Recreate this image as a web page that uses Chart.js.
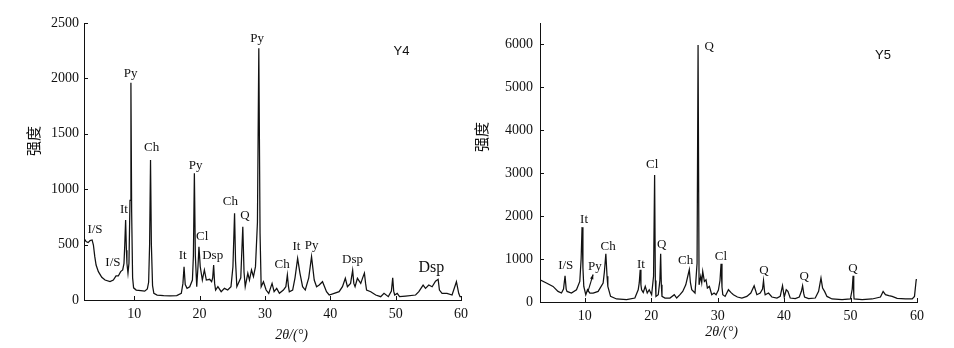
<!DOCTYPE html>
<html><head><meta charset="utf-8">
<script src="https://cdn.jsdelivr.net/npm/chart.js@4.4.1/dist/chart.umd.min.js"></script>
<style>
html,body{margin:0;padding:0;background:#fff}
body{width:954px;height:348px;position:relative;overflow:hidden}
canvas{position:absolute;left:0;top:0}
</style></head><body>
<canvas id="c1" width="954" height="348"></canvas>
<canvas id="c2" width="954" height="348"></canvas>
<script>
// ---- Data: Y4 ----
const y4Angle = [2.31,2.63,2.94,3.24,3.55,3.75,3.96,4.16,4.51,5.03,5.53,6.29,6.80,7.21,7.56,7.92,8.23,8.43,8.55,8.68,8.80,8.88,9.04,9.19,9.35,9.49,9.60,9.75,9.90,10.3,11.0,11.6,12.0,12.2,12.35,12.49,12.62,12.8,13.0,13.5,14.5,15.5,16.5,17.2,17.45,17.62,17.8,18.08,18.49,18.9,19.05,19.2,19.35,19.56,19.75,19.9,20.1,20.42,20.73,21.03,21.54,21.84,22.0,22.15,22.3,22.45,22.8,23.3,23.8,24.3,24.8,25.1,25.35,25.5,25.7,26.3,26.61,26.8,26.98,27.38,27.63,27.94,28.24,28.55,28.85,29.06,29.25,29.42,29.77,30.18,30.58,31.09,31.4,31.8,32.21,32.82,33.2,33.43,33.6,33.73,34.24,34.6,35.0,35.36,35.76,36.17,36.7,37.13,37.54,37.9,38.3,38.81,39.12,39.42,39.83,40.59,41.35,41.86,42.3,42.62,43.1,43.42,43.6,43.79,44.15,44.66,44.95,45.22,45.4,45.55,46.19,46.95,47.71,48.22,48.88,49.35,49.55,49.7,49.85,50.24,50.6,51.52,53.05,53.55,54.2,54.57,55.07,55.58,56.1,56.5,56.7,57.1,57.86,58.63,59.3,59.65,59.85,60];
const y4Intensity = [557,527,518,536,542,496,391,316,256,205,180,166,180,217,217,256,271,331,500,722,450,331,241,331,900,1961,800,200,110,90,85,80,100,160,500,1264,500,130,60,45,40,38,40,60,150,300,140,105,120,180,400,1143,400,120,300,481,300,180,271,180,187,165,200,316,150,90,120,75,105,90,120,300,782,350,120,200,662,250,120,241,180,271,210,301,700,2271,600,120,165,90,60,150,75,105,60,90,120,226,120,75,90,200,376,241,120,90,200,391,180,120,135,165,120,75,45,60,75,120,196,120,150,268,150,120,196,150,200,243,150,90,75,45,30,60,30,80,200,80,45,60,30,36,45,75,135,105,135,120,170,187,90,60,60,45,165,60,30,30];
// ---- Data: Y5 ----
const y5Angle = [3.26,4.22,5.22,5.97,6.49,6.8,7.03,7.2,7.33,7.99,8.75,9.25,9.45,9.59,9.72,9.85,10.15,10.41,10.76,11.26,12.01,12.76,12.95,13.17,13.35,13.47,13.88,14.78,16.29,17.54,18.04,18.2,18.34,18.45,18.55,18.8,19.1,19.4,19.7,20.06,20.35,20.51,20.62,20.71,21.06,21.3,21.42,21.52,21.62,22.07,22.82,23.47,23.83,24.33,24.74,25.2,25.5,25.73,25.9,26.1,26.59,26.9,27.05,27.2,27.45,27.6,27.75,28.0,28.25,28.45,28.75,29.11,29.46,29.76,30.11,30.35,30.51,30.65,30.77,31.12,31.62,31.98,32.37,32.97,33.64,34.39,34.99,35.49,35.9,36.4,36.75,36.9,37.05,37.15,37.65,38.16,38.92,39.41,39.76,40.02,40.32,40.57,40.92,41.68,42.28,42.6,42.78,42.95,43.08,43.68,44.69,45.19,45.55,45.79,46.09,46.45,47.21,48.72,49.97,50.25,50.38,50.48,50.53,51.74,53.24,54.5,54.9,55.25,55.75,56.26,57.01,58.27,59.28,59.62,59.88,60];
const y5Intensity = [519,442,363,247,209,300,612,300,247,209,286,479,1000,1744,800,363,170,286,209,209,247,442,700,1123,600,363,130,70,53,93,286,450,751,400,286,223,363,209,286,170,600,2961,500,130,170,500,1123,400,130,93,93,170,93,170,247,400,600,751,450,286,209,900,5985,400,596,450,712,479,519,326,363,170,209,170,280,500,891,350,170,130,286,223,170,116,93,130,209,379,170,209,300,495,250,170,209,116,93,130,379,116,286,247,93,77,116,250,379,200,116,77,93,247,558,326,247,130,70,53,70,300,612,200,70,53,70,116,247,170,147,130,84,70,70,130,519,520];
// ---- Tick labels ----
const xTickValues = [10,20,30,40,50,60];
const y4TickValues = [0,500,1000,1500,2000,2500];
const y5TickValues = [0,1000,2000,3000,4000,5000,6000];
// ---- Peak labels [text, angle, intensity] ----
const y4Labels = [["I/S",3.99,632],["I/S",6.74,334],["It",8.43,812],["Py",9.45,2040],["Ch",12.66,1372],["It",17.40,397],["Py",19.39,1212],["Cl",20.40,569],["Dsp",22.0,397],["Ch",24.71,884],["Q",26.93,758],["Py",28.81,2362],["Ch",32.63,322],["It",34.83,481],["Py",37.13,487],["Dsp",43.40,367]];
const y4BigLabels = [["Dsp",55.47,292]];
const y5Labels = [["I/S",7.13,851],["It",9.89,1931],["Py",11.51,828],["Ch",13.51,1293],["It",18.44,868],["Cl",20.14,3194],["Q",21.56,1333],["Ch",25.18,961],["Q",28.73,5962],["Cl",30.5,1061],["Q",36.98,735],["Q",43.01,582],["Q",50.35,768]];

const SERIF = '"Liberation Serif","Times New Roman",serif';
const decor = {
  id: 'decor',
  afterDraw(chart, args, o) {
    const {ctx, chartArea: a, scales: {x, y}} = chart;
    ctx.save();
    ctx.strokeStyle = '#111'; ctx.lineWidth = 1;
    ctx.beginPath();
    x.ticks.forEach(t => { const p = Math.round(x.getPixelForValue(t.value)) + 0.5; ctx.moveTo(p, a.bottom); ctx.lineTo(p, a.bottom - 4); });
    y.ticks.forEach(t => { const p = Math.round(y.getPixelForValue(t.value)) + 0.5; ctx.moveTo(a.left, p); ctx.lineTo(a.left + 4, p); });
    ctx.stroke();
    ctx.fillStyle = '#111'; ctx.textAlign = 'center'; ctx.textBaseline = 'middle';
    ctx.font = '13px ' + SERIF;
    o.labels.forEach(l => ctx.fillText(l[0], x.getPixelForValue(l[1]), y.getPixelForValue(l[2])));
    ctx.font = '16px ' + SERIF;
    (o.big || []).forEach(l => ctx.fillText(l[0], x.getPixelForValue(l[1]), y.getPixelForValue(l[2])));
    // sample name
    ctx.font = '13px "Liberation Sans",Arial,sans-serif';
    ctx.fillText(o.name[0], x.getPixelForValue(o.name[1]), y.getPixelForValue(o.name[2]));
    // arrow
    if (o.arrow) {
      const [x1, y1, x2, y2] = o.arrow;
      const px1 = x.getPixelForValue(x1), py1 = y.getPixelForValue(y1), px2 = x.getPixelForValue(x2), py2 = y.getPixelForValue(y2);
      ctx.beginPath(); ctx.lineWidth = 1.1; ctx.moveTo(px1, py1); ctx.lineTo(px2, py2); ctx.stroke();
      const ang = Math.atan2(py1 - py2, px1 - px2);
      ctx.beginPath(); ctx.moveTo(px1, py1);
      ctx.lineTo(px1 - 5 * Math.cos(ang - 0.35), py1 - 5 * Math.sin(ang - 0.35));
      ctx.lineTo(px1 - 5 * Math.cos(ang + 0.35), py1 - 5 * Math.sin(ang + 0.35));
      ctx.closePath(); ctx.fill();
    }
    // x title
    ctx.font = 'italic 14px ' + SERIF;
    ctx.fillText('2θ/(°)', x.getPixelForValue(o.xTitleAt), a.bottom + o.xTitleDy);
    // y title
    ctx.translate(a.left - o.yTitleDx, y.getPixelForValue(o.yTitleAt));
    ctx.rotate(-Math.PI / 2);
    ctx.font = '15px "Noto Sans CJK SC",sans-serif';
    ctx.fillText('强度', 0, 0);
    ctx.restore();
  }
};

function makeChart(id, angle, intensity, cfg) {
  return new Chart(document.getElementById(id), {
    type: 'line',
    data: { datasets: [{ data: angle.map((v, i) => ({x: v, y: intensity[i]})), borderColor: '#111', borderWidth: 1.25, pointRadius: 0, tension: 0, fill: false }] },
    options: {
      responsive: false, animation: false,
      layout: { padding: cfg.padding },
      plugins: { legend: { display: false }, tooltip: { enabled: false }, decor: cfg.decor },
      scales: {
        x: {
          type: 'linear', min: cfg.xmin, max: 60,
          afterBuildTicks: s => { s.ticks = xTickValues.map(v => ({value: v})); },
          afterFit: s => { s.height = cfg.xh; },
          grid: { display: false, drawTicks: false },
          border: { display: true, color: '#111', width: 1 },
          ticks: { color: '#111', font: { family: SERIF, size: 14 }, padding: 6, maxRotation: 0, callback: v => String(v) }
        },
        y: {
          type: 'linear', min: 0, max: cfg.ymax,
          afterBuildTicks: s => { s.ticks = cfg.yticks.map(v => ({value: v})); },
          afterFit: s => { s.width = cfg.yw; },
          grid: { display: false, drawTicks: false },
          border: { display: true, color: '#111', width: 1 },
          ticks: { color: '#111', font: { family: SERIF, size: 14 }, padding: cfg.ypad, callback: v => String(v) }
        }
      }
    },
    plugins: [decor]
  });
}

makeChart('c1', y4Angle, y4Intensity, {
  padding: {left: 0, right: 493, top: 23, bottom: 0}, xmin: 2.31, ymax: 2500, yticks: y4TickValues,
  xh: 48, yw: 84, ypad: 5,
  decor: { labels: y4Labels, big: y4BigLabels, name: ['Y4', 50.89, 2241], xTitleAt: 34.07, xTitleDy: 35, yTitleDx: 51, yTitleAt: 1435 }
});
makeChart('c2', y5Angle, y5Intensity, {
  padding: {left: 480, right: 37, top: 23, bottom: 0}, xmin: 3.26, ymax: 6500, yticks: y5TickValues,
  xh: 46, yw: 60, ypad: 7,
  decor: { labels: y5Labels, name: ['Y5', 54.87, 5736], arrow: [11.25, 640, 10.45, 230], xTitleAt: 30.6, xTitleDy: 30, yTitleDx: 58.6, yTitleAt: 3845 }
});
</script>
</body></html>
